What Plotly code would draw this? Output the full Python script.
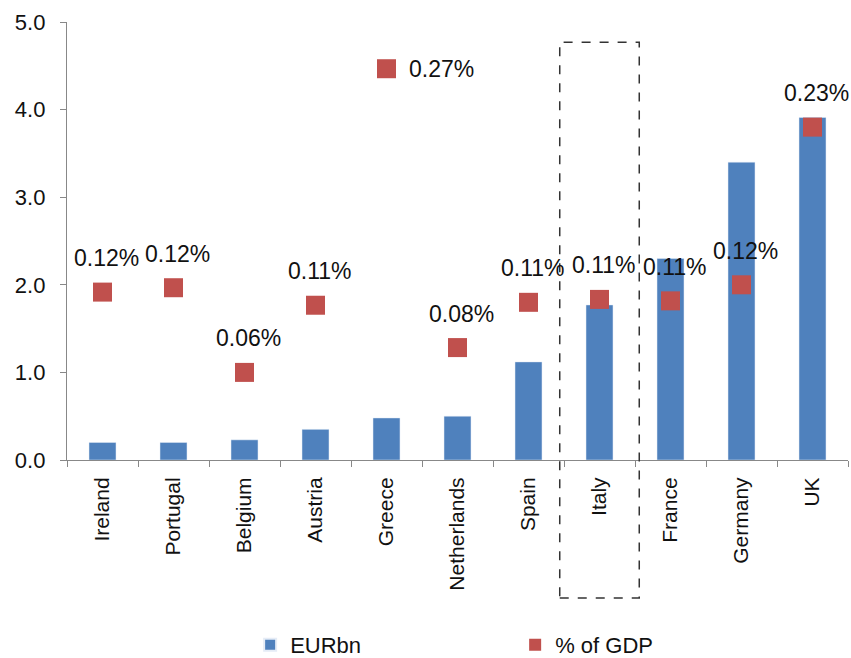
import plotly.graph_objects as go

countries = ["Ireland", "Portugal", "Belgium", "Austria", "Greece", "Netherlands",
             "Spain", "Italy", "France", "Germany", "UK"]
eur_bn = [0.20, 0.20, 0.23, 0.35, 0.48, 0.50, 1.12, 1.77, 2.30, 3.40, 3.91]
pct_gdp = [0.115, 0.118, 0.060, 0.106, 0.268, 0.077, 0.108, 0.110, 0.109, 0.120, 0.228]
pct_labels = ["0.12%", "0.12%", "0.06%", "0.11%", "0.27%", "0.08%",
              "0.11%", "0.11%", "0.11%", "0.12%", "0.23%"]
highlight = "Italy"

FONT = "Liberation Sans, Arial, sans-serif"
BLUE = "#4F81BD"
RED = "#C0504D"

fig = go.Figure()
fig.add_trace(go.Bar(x=countries, y=eur_bn, name="EURbn", marker_color=BLUE,
                     yaxis="y"))
fig.add_trace(go.Scatter(x=countries, y=pct_gdp, name="% of GDP", mode="markers",
                         marker=dict(symbol="square", size=19, color=RED),
                         yaxis="y2"))

for c, v, t in zip(countries, pct_gdp, pct_labels):
    if c == "Greece":
        fig.add_annotation(x=c, y=v, yref="y2", text=t, showarrow=False,
                           xanchor="left", xshift=20, yshift=0,
                           font=dict(size=23, color="#111", family=FONT))
    else:
        fig.add_annotation(x=c, y=v, yref="y2", text=t, showarrow=False,
                           xanchor="center", xshift=4, yshift=34,
                           font=dict(size=23, color="#111", family=FONT))

idx = countries.index(highlight)
fig.add_shape(type="rect", xref="x", yref="paper",
              x0=idx - 0.56, x1=idx + 0.56, y0=-0.315, y1=0.954,
              line=dict(color="#333", width=1.5, dash="dash"),
              fillcolor="rgba(0,0,0,0)", layer="above")

fig.update_layout(
    width=851, height=658,
    margin=dict(l=67, r=3, t=22, b=198, autoexpand=False),
    paper_bgcolor="white", plot_bgcolor="white",
    font=dict(family=FONT, size=22, color="#111"),
    bargap=0.62,
    showlegend=True,
    legend=dict(orientation="h", x=0.2345, xanchor="left",
                yref="container", y=0.02, yanchor="middle",
                entrywidth=220, entrywidthmode="pixels", itemsizing="constant",
                font=dict(size=22, family=FONT, color="#111")),
    xaxis=dict(type="category", range=[-0.5, len(countries) - 0.5],
               tickangle=-90, showline=True, linecolor="#888",
               linewidth=1, ticks="outside", ticklen=6, tickcolor="#888",
               tickson="boundaries", showgrid=False, ticklabelstandoff=8,
               tickfont=dict(size=21, family=FONT, color="#111")),
    yaxis=dict(range=[0, 5], dtick=1, tickformat=".1f", showline=True,
               linecolor="#888", linewidth=1, ticks="outside", ticklen=6,
               tickcolor="#888", showgrid=False, zeroline=False,
               ticklabelstandoff=-2, ticksuffix="\u00a0\u00a0",
               tickfont=dict(size=22, family=FONT, color="#111")),
    yaxis2=dict(range=[0, 0.3], overlaying="y", side="right", visible=False),
)

fig.write_html("out.html", config={"displayModeBar": False},
               post_script="document.body.style.margin='0';document.body.style.padding='0';")
